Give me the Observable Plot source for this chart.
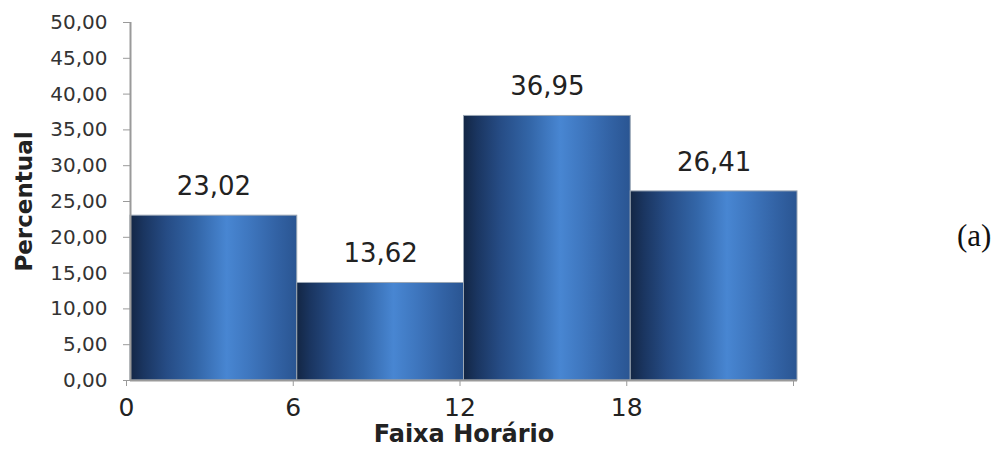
<!DOCTYPE html>
<html>
<head>
<meta charset="utf-8">
<script src="https://cdn.jsdelivr.net/npm/d3@7"></script>
<script src="https://cdn.jsdelivr.net/npm/@observablehq/plot@0.6"></script>
<style>
  html, body { margin: 0; padding: 0; background: #fff; }
  #wrap { position: relative; width: 998px; height: 455px; }
  #tag { position: absolute; left: 957px; top: 218px; font-family: "Liberation Serif", "Times New Roman", serif; font-size: 31px; color: #111; }
</style>
</head>
<body>
<div id="wrap"><div id="chart"></div><div id="tag">(a)</div></div>
<script>
const binStart = [0, 6, 12, 18];
const binEnd = [6, 12, 18, 24];
const percent = [23.02, 13.62, 36.95, 26.41];
const xTicks = [0, 6, 12, 18, 24];
const xTickLabels = ["0", "6", "12", "18", ""];
const yTicks = [0, 5, 10, 15, 20, 25, 30, 35, 40, 45, 50];
const xTitle = "Faixa Horário";
const yTitle = "Percentual";

const data = binStart.map((s, i) => ({x1: s, x2: binEnd[i], y: percent[i]}));
const fmt = v => v.toFixed(2).replace(".", ",");

const plot = Plot.plot({
  width: 998,
  height: 455,
  marginLeft: 130,
  marginRight: 201,
  marginTop: 22,
  marginBottom: 75,
  style: {fontFamily: "'DejaVu Sans', Verdana, sans-serif", background: "white", color: "#222"},
  x: {domain: [0, 24], label: null},
  y: {domain: [0, 50], label: null},
  marks: [
    Plot.rectY(data, {x1: "x1", x2: "x2", y: "y", fill: "url(#barGrad)", stroke: "#9aa6b4", strokeWidth: 1}),
    Plot.text(data, {x: d => (d.x1 + d.x2) / 2, y: "y", text: d => fmt(d.y), dy: -29, fontSize: 26, fill: "#222"}),
    Plot.ruleX([0], {stroke: "#9a9a9a", strokeWidth: 2}),
    Plot.ruleY([0], {stroke: "#9a9a9a", strokeWidth: 2}),
    Plot.axisY({ticks: yTicks, tickFormat: fmt, tickSize: 7, tickPadding: 16, fontSize: 20, stroke: "#9a9a9a", fill: "#333", label: null}),
    Plot.axisX({ticks: xTicks, tickFormat: d => xTickLabels[xTicks.indexOf(d)], tickSize: 6, tickPadding: 12, fontSize: 25, dx: -4, stroke: "#9a9a9a", fill: "#222", label: null}),
    Plot.text([xTitle], {frameAnchor: "bottom", dy: 61, fontSize: 24, fontWeight: "bold", fill: "#222"}),
    Plot.text([yTitle], {frameAnchor: "left", textAnchor: "middle", rotate: -90, dx: -106, fontSize: 23, fontWeight: "bold", fill: "#222"})
  ]
});

const svg = d3.select(plot);
const defs = svg.insert("defs", ":first-child");
const g = defs.append("linearGradient").attr("id", "barGrad").attr("x1", 0).attr("x2", 1).attr("y1", 0).attr("y2", 0);
[[0, "#132644"], [0.08, "#1a3560"], [0.22, "#264c85"], [0.4, "#3366a8"], [0.58, "#4886d2"], [0.72, "#3e76be"], [0.88, "#3262a4"], [1, "#2a5592"]]
  .forEach(([o, c]) => g.append("stop").attr("offset", o).attr("stop-color", c));

document.getElementById("chart").appendChild(plot);
</script>
</body>
</html>
